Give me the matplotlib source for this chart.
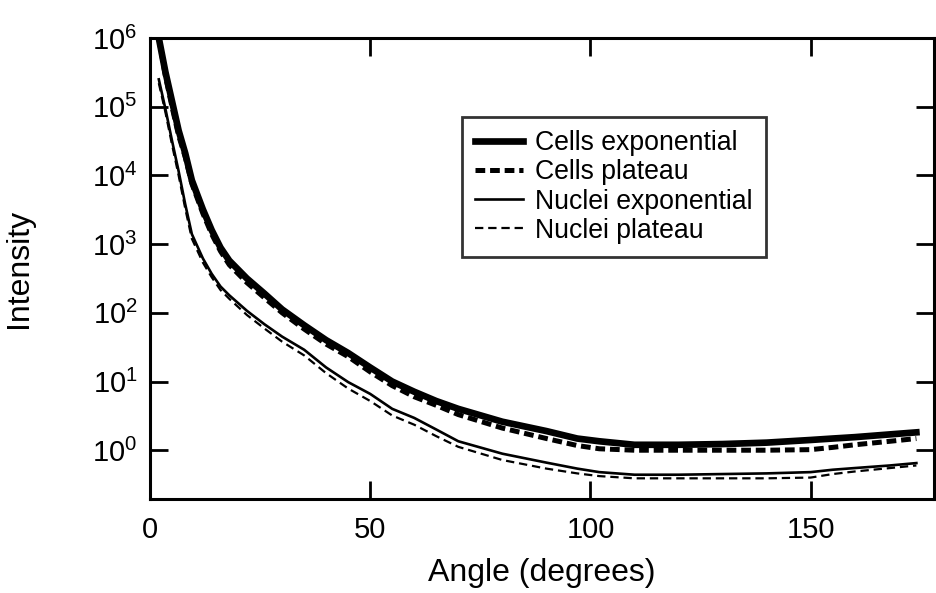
"""Scattered intensity versus angle for cells and nuclei (log scale)."""

import math

import matplotlib

matplotlib.use("Agg")
import matplotlib.pyplot as plt
from matplotlib.ticker import FixedLocator, FuncFormatter, NullLocator

plt.rcParams["font.family"] = ["Liberation Sans", "DejaVu Sans"]
plt.rcParams["lines.scale_dashes"] = False

# Angles (degrees) shared by all four curves
angle = [2, 3.5, 5, 6.5, 8, 9.5, 12, 14, 16, 18, 22, 26, 30, 35, 40, 45, 50, 55,
         60, 65, 70, 80, 90, 97, 102, 110, 120, 130, 140, 150, 155, 160, 168, 174]

cells_exponential = [1e6, 3.2e5, 1.2e5, 4.5e4, 2.1e4, 8.5e3, 3.2e3, 1.6e3, 890, 575,
                     316, 190, 112, 66, 40, 26, 16, 10, 7.1, 5.2, 4.0, 2.6, 1.9, 1.48,
                     1.35, 1.2, 1.2, 1.23, 1.29, 1.41, 1.48, 1.55, 1.7, 1.82]
cells_plateau = [1e6, 2.8e5, 1e5, 3.8e4, 1.85e4, 7.6e3, 2.8e3, 1.4e3, 790, 500,
                 275, 165, 100, 58, 35, 23, 13.8, 8.7, 6.0, 4.5, 3.3, 2.1, 1.48, 1.17,
                 1.05, 1.0, 1.0, 1.0, 1.0, 1.02, 1.1, 1.2, 1.35, 1.48]
nuclei_exponential = [2.5e5, 9.3e4, 3.2e4, 1.15e4, 3.8e3, 1.4e3, 620, 370, 242, 180,
                      107, 68, 45, 29, 16, 9.8, 6.6, 4.0, 2.95, 2.0, 1.35, 0.89, 0.66,
                      0.54, 0.48, 0.44, 0.44, 0.45, 0.46, 0.48, 0.52, 0.55, 0.6, 0.65]
nuclei_plateau = [2.2e5, 8.3e4, 2.8e4, 1e4, 3.3e3, 1.2e3, 540, 330, 215, 160,
                  93, 59, 38, 24, 13.2, 7.9, 5.2, 3.2, 2.35, 1.6, 1.12, 0.72, 0.54,
                  0.46, 0.42, 0.39, 0.39, 0.39, 0.39, 0.40, 0.45, 0.49, 0.55, 0.60]

x_ticks = [0, 50, 100, 150]
y_ticks = [1e0, 1e1, 1e2, 1e3, 1e4, 1e5, 1e6]

fig = plt.figure(figsize=(9.36, 5.93), dpi=100)
ax = fig.add_axes([150 / 936, 1 - 499 / 593, 784 / 936, 461 / 593])

ax.plot(angle, cells_exponential, color="black", lw=4.8, label="Cells exponential")
ax.plot(angle, cells_plateau, color="black", lw=3.6, dashes=(7, 3.5), label="Cells plateau")
ax.plot(angle, nuclei_exponential, color="black", lw=1.9, label="Nuclei exponential")
ax.plot(angle, nuclei_plateau, color="black", lw=1.6, dashes=(6, 3.5), label="Nuclei plateau")

ax.set_yscale("log")
ax.set_xlim(0, 178)
ax.set_ylim(0.195, 1e6)

ax.xaxis.set_major_locator(FixedLocator(x_ticks))
ax.yaxis.set_major_locator(FixedLocator(y_ticks))
ax.yaxis.set_minor_locator(NullLocator())
ax.yaxis.set_major_formatter(
    FuncFormatter(lambda v, pos: r"$\mathregular{10^{%d}}$" % round(math.log10(v)))
)
ax.tick_params(which="major", direction="in", length=13, width=2, labelsize=21,
               top=True, right=True)
ax.tick_params(axis="x", pad=12)
ax.tick_params(axis="y", pad=9)
for spine in ax.spines.values():
    spine.set_linewidth(2.2)

ax.set_xlabel("Angle (degrees)", fontsize=23, labelpad=10)
ax.set_ylabel("Intensity", fontsize=23, labelpad=42)

leg = ax.legend(loc="upper left", bbox_to_anchor=(0.398, 0.829), fontsize=19.2,
                frameon=True, fancybox=False, edgecolor="black", handlelength=1.8,
                handletextpad=0.45, labelspacing=0.12, borderpad=0.5, borderaxespad=0)
leg.get_frame().set_linewidth(2)

fig.savefig("out.png", dpi=100, facecolor="white")
